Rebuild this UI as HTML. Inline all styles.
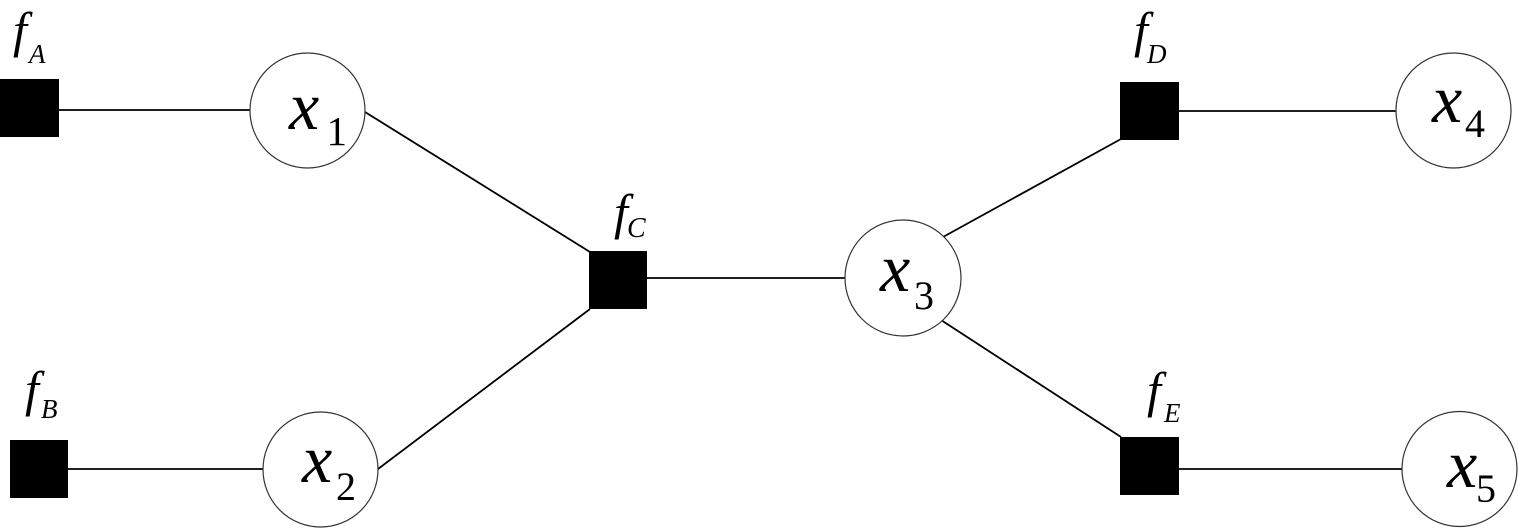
<!DOCTYPE html>
<html>
<head>
<meta charset="utf-8">
<style>
  html, body { margin: 0; padding: 0; background: #fff; }
  body { width: 1518px; height: 528px; overflow: hidden; }
  svg { display: block; }
</style>
</head>
<body>
<svg width="1518" height="528" viewBox="0 0 1518 528" xmlns="http://www.w3.org/2000/svg">
  <!-- edges -->
  <g stroke="#000" stroke-width="1.8" fill="none">
    <line x1="59" y1="110" x2="250" y2="110"/>
    <line x1="68" y1="469" x2="263" y2="469"/>
    <line x1="647" y1="278" x2="845" y2="278"/>
    <line x1="1179" y1="111" x2="1396" y2="111"/>
    <line x1="1179" y1="469" x2="1402" y2="469"/>
    <line x1="365" y1="112" x2="590" y2="252"/>
    <line x1="378" y1="469" x2="590" y2="309"/>
    <line x1="943" y1="237" x2="1121" y2="139"/>
    <line x1="941" y1="320" x2="1121" y2="437"/>
  </g>

  <!-- variable nodes -->
  <g stroke="#333" stroke-width="1.2" fill="#fff">
    <circle cx="307.5" cy="110.5" r="57.5"/>
    <circle cx="320.5" cy="469.5" r="57.5"/>
    <circle cx="903" cy="278" r="58"/>
    <circle cx="1453.5" cy="110.5" r="57.5"/>
    <circle cx="1459.5" cy="469" r="57.5"/>
  </g>

  <!-- factor nodes -->
  <g fill="#000">
    <rect x="0" y="79" width="59" height="58"/>
    <rect x="10" y="440" width="58" height="58"/>
    <rect x="589" y="251" width="58" height="58"/>
    <rect x="1120" y="82" width="59" height="58"/>
    <rect x="1120" y="437" width="59" height="58"/>
  </g>

  <g style="font-family:'Liberation Serif','DejaVu Serif',serif;" fill="#000">
    <!-- variable labels -->
    <text x="289" y="129" style="font-size:68px;font-style:italic;">x</text>
    <text x="326.5" y="145" style="font-size:41px;">1</text>

    <text x="302" y="482" style="font-size:68px;font-style:italic;">x</text>
    <text x="336" y="500" style="font-size:40px;">2</text>

    <text x="880" y="291" style="font-size:68px;font-style:italic;">x</text>
    <text x="914" y="309" style="font-size:40px;">3</text>

    <text x="1432" y="122" style="font-size:68px;font-style:italic;">x</text>
    <text x="1465" y="137" style="font-size:40px;">4</text>

    <text x="1447" y="487" style="font-size:68px;font-style:italic;">x</text>
    <text x="1476" y="502" style="font-size:40px;">5</text>

    <!-- factor labels -->
    <text x="13" y="47" style="font-size:50px;font-style:italic;">f</text>
    <text x="29" y="63" style="font-size:27px;font-style:italic;">A</text>

    <text x="25" y="406" style="font-size:50px;font-style:italic;">f</text>
    <text x="41" y="418" style="font-size:27px;font-style:italic;">B</text>

    <text x="614" y="229" style="font-size:50px;font-style:italic;">f</text>
    <text x="627" y="237" style="font-size:28px;font-style:italic;">C</text>

    <text x="1134" y="47" style="font-size:50px;font-style:italic;">f</text>
    <text x="1147" y="63" style="font-size:27px;font-style:italic;">D</text>

    <text x="1147" y="407" style="font-size:50px;font-style:italic;">f</text>
    <text x="1164" y="422" style="font-size:27px;font-style:italic;">E</text>
  </g>
</svg>
</body>
</html>
